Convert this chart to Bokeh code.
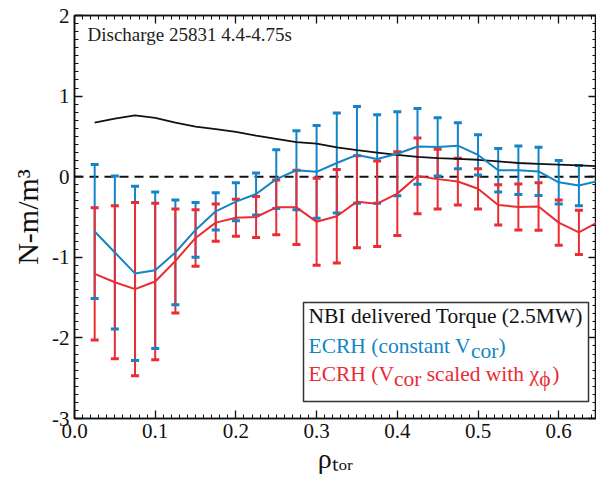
from bokeh.plotting import figure
from bokeh.models import (Range1d, LinearAxis, SingleIntervalTicker, PrintfTickFormatter,
                          CustomJSTickFormatter, Span, Label, BoxAnnotation, ColumnDataSource)
from bokeh.embed import file_html
from bokeh.resources import INLINE

# ---------------- data ----------------
rho = [0.025, 0.05, 0.075, 0.1, 0.125, 0.15, 0.175, 0.2, 0.225, 0.25, 0.275, 0.3, 0.325,
       0.35, 0.375, 0.4, 0.425, 0.45, 0.475, 0.5, 0.525, 0.55, 0.575, 0.6, 0.625, 0.65]
nbi_torque = [0.67, 0.72, 0.76, 0.73, 0.67, 0.62, 0.59, 0.555, 0.51, 0.47, 0.43, 0.41, 0.365,
              0.33, 0.30, 0.27, 0.245, 0.23, 0.22, 0.21, 0.19, 0.17, 0.16, 0.15, 0.14, 0.13]
ecrh_const = [-0.68, -0.94, -1.20, -1.16, -0.94, -0.66, -0.43, -0.31, -0.215, -0.03, 0.08, 0.06, 0.17,
              0.27, 0.22, 0.285, 0.375, 0.37, 0.385, 0.27, 0.08, 0.08, 0.066, -0.07, -0.11, -0.05]
ecrh_const_err = [0.83, 0.95, 1.08, 0.97, 0.65, 0.34, 0.23, 0.235, 0.26, 0.365, 0.49, 0.575, 0.62,
                  0.60, 0.55, 0.52, 0.47, 0.36, 0.285, 0.25, 0.27, 0.30, 0.30, 0.27, 0.25]
ecrh_scaled = [-1.205, -1.31, -1.395, -1.30, -1.045, -0.76, -0.57, -0.51, -0.50, -0.38, -0.38, -0.56, -0.49,
               -0.31, -0.335, -0.21, 0.01, -0.03, -0.06, -0.15, -0.35, -0.375, -0.37, -0.57, -0.69, -0.555]
ecrh_scaled_err = [0.82, 0.95, 1.075, 0.97, 0.645, 0.35, 0.23, 0.23, 0.255, 0.34, 0.46, 0.54, 0.58,
                   0.57, 0.53, 0.52, 0.47, 0.37, 0.29, 0.25, 0.25, 0.285, 0.295, 0.28, 0.275]

title_text = "Discharge 25831 4.4-4.75s"
legend_nbi = "NBI delivered Torque (2.5MW)"
x_label = "ρₜₒᵣ"
y_label = "N-m/m³"

# ---------------- layout / style ----------------
W, H = 596, 487
L, T, B, R = 74, 15, 69, 0
FW, FH = W - L - R, H - T - B
XMAX = 0.6468
YMIN, YMAX = -3.0, 2.0
FONT = "Liberation Serif"
BLUE = "#1385c6"
RED = "#ea2c34"
BLACK = "#111111"


def dx(px):
    return (px - L) / FW * XMAX


def dy(py):
    return YMAX - (py - T) / FH * (YMAX - YMIN)


TW = {' ': .25, '(': .333, ')': .333, '.': .25, '-': .333, '/': .278,
      'A': .722, 'B': .667, 'C': .667, 'D': .722, 'E': .611, 'H': .722, 'I': .333, 'M': .889,
      'N': .722, 'R': .667, 'T': .611, 'V': .722, 'W': .944,
      'a': .444, 'c': .444, 'd': .5, 'e': .444, 'g': .5, 'h': .5, 'i': .278, 'l': .278, 'n': .5,
      'o': .5, 'q': .5, 'r': .333, 's': .389, 't': .278, 'u': .5, 'v': .5, 'w': .722,
      'χ': .46, 'ϕ': .6}


def tw(s, size):
    return sum(TW.get(c, .5) for c in s) * size


p = figure(width=W, height=H, x_range=Range1d(0, XMAX), y_range=Range1d(YMIN, YMAX),
           output_backend="svg", toolbar_location=None,
           min_border_left=L, min_border_right=R, min_border_top=T, min_border_bottom=B,
           background_fill_color="white", border_fill_color="white")
p.xgrid.visible = False
p.ygrid.visible = False
p.outline_line_color = BLACK
p.outline_line_width = 1.5

bottom_ax = p.xaxis[0]
left_ax = p.yaxis[0]
bottom_ax.ticker = SingleIntervalTicker(interval=0.1, num_minor_ticks=10)
left_ax.ticker = SingleIntervalTicker(interval=1, num_minor_ticks=10)
bottom_ax.formatter = PrintfTickFormatter(format="%.1f")
left_ax.formatter = PrintfTickFormatter(format="%d")

blank = CustomJSTickFormatter(code="return ''")
top_ax = LinearAxis(ticker=SingleIntervalTicker(interval=0.1, num_minor_ticks=10), formatter=blank)
right_ax = LinearAxis(ticker=SingleIntervalTicker(interval=1, num_minor_ticks=10), formatter=blank)
p.add_layout(top_ax, "above")
p.add_layout(right_ax, "right")

for ax in [bottom_ax, left_ax, top_ax, right_ax]:
    ax.axis_line_color = BLACK
    ax.axis_line_width = 1.5
    ax.major_tick_line_color = BLACK
    ax.minor_tick_line_color = BLACK
    ax.major_tick_line_width = 1.3
    ax.minor_tick_line_width = 1.0
    ax.major_tick_in = 8
    ax.major_tick_out = 0
    ax.minor_tick_in = 4
    ax.minor_tick_out = 0
    ax.major_label_text_font = FONT
    ax.major_label_text_font_size = "21px"
    ax.major_label_text_color = BLACK
    ax.major_label_standoff = 5
for ax in [top_ax, right_ax]:
    ax.major_label_text_font_size = "0px"
    ax.major_label_standoff = 0

bottom_ax.axis_label = x_label
bottom_ax.axis_label_text_font = FONT
bottom_ax.axis_label_text_font_style = "normal"
bottom_ax.axis_label_text_font_size = "28px"
bottom_ax.axis_label_text_color = BLACK
bottom_ax.axis_label_standoff = 2

left_ax.axis_label = y_label
left_ax.axis_label_text_font = FONT
left_ax.axis_label_text_font_style = "normal"
left_ax.axis_label_text_font_size = "30px"
left_ax.axis_label_text_color = BLACK
left_ax.axis_label_standoff = 5

p.add_layout(Span(location=0, dimension="width", line_color=BLACK, line_width=2,
                  line_dash="9 6", level="underlay"))

n = len(ecrh_const_err)
src = ColumnDataSource(dict(
    x=rho[:n],
    b_lo=[v - e for v, e in zip(ecrh_const[:n], ecrh_const_err)],
    b_hi=[v + e for v, e in zip(ecrh_const[:n], ecrh_const_err)],
    r_lo=[v - e for v, e in zip(ecrh_scaled[:n], ecrh_scaled_err)],
    r_hi=[v + e for v, e in zip(ecrh_scaled[:n], ecrh_scaled_err)],
))

p.segment(x0="x", y0="b_lo", x1="x", y1="b_hi", source=src, line_color=BLUE, line_width=2)
p.segment(x0="x", y0="r_lo", x1="x", y1="r_hi", source=src, line_color=RED, line_width=2)
for col, c in [("b_lo", BLUE), ("b_hi", BLUE), ("r_lo", RED), ("r_hi", RED)]:
    p.dash(x="x", y=col, source=src, size=8, line_color=c, line_width=3)

p.line(rho, nbi_torque, line_color=BLACK, line_width=1.8)
p.line(rho, ecrh_const, line_color=BLUE, line_width=2)
p.line(rho, ecrh_scaled, line_color=RED, line_width=2)

# title text inside plot
p.add_layout(Label(x=dx(87), y=dy(44.5), text=title_text, text_font=FONT,
                   text_font_size="19px", text_color="#222222"))

# legend box
p.add_layout(BoxAnnotation(left=dx(303), right=dx(588), top=dy(302), bottom=dy(401),
                           fill_color="white", fill_alpha=1.0, line_color="#333333",
                           line_width=1.5, line_alpha=1.0))

LS = 21.5
SUB = 5


def put_line(pieces, x0, base, color, size=LS):
    x = x0
    for txt, sub in pieces:
        lead = len(txt) - len(txt.lstrip(" "))
        x += lead * TW[' '] * size
        body = txt.strip(" ")
        p.add_layout(Label(x=dx(x), y=dy(base + (SUB if sub else 0)), text=body,
                           text_font=FONT, text_font_size=f"{size}px", text_color=color))
        x += tw(txt.lstrip(" "), size)


put_line([(legend_nbi, False)], 308, 327.5, BLACK)
put_line([("ECRH (constant V", False), ("cor", True), (")", False)], 308, 357, BLUE)
put_line([("ECRH (V", False), ("cor", True), (" scaled with χ", False), ("ϕ", True), (")", False)],
         308, 385.5, RED)

open("out.html", "w").write(file_html(p, INLINE))
